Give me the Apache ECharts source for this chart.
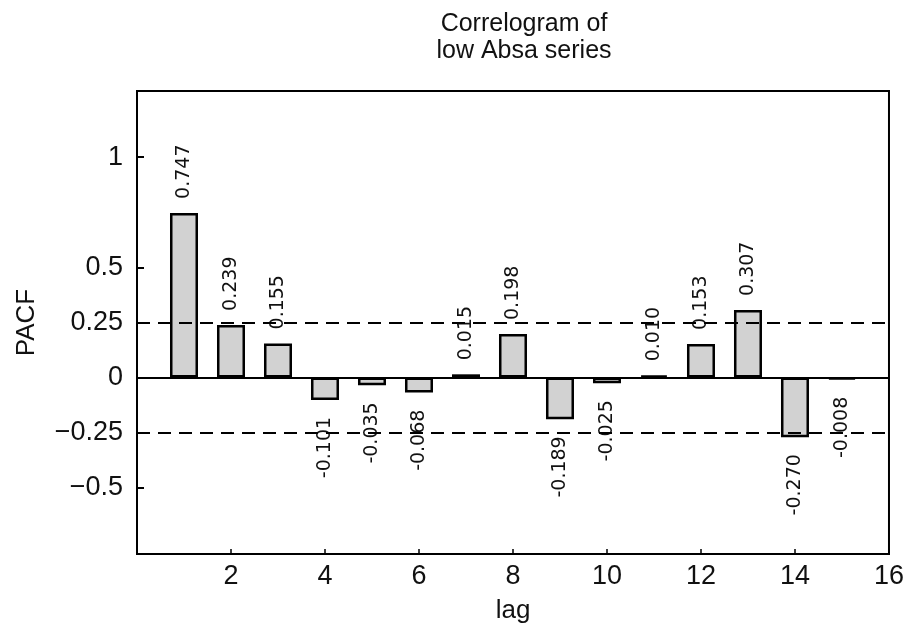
<!DOCTYPE html>
<html>
<head>
<meta charset="utf-8">
<script src="https://cdn.jsdelivr.net/npm/echarts@6/dist/echarts.min.js"></script>
<style>html,body{margin:0;padding:0;background:#fff;}#c{width:907px;height:629px;}</style>
</head>
<body>
<div id="c"></div>
<script>
const lags = [1,2,3,4,5,6,7,8,9,10,11,12,13,14,15];
const pacf = [0.747,0.239,0.155,-0.101,-0.035,-0.068,0.015,0.198,-0.189,-0.025,0.010,0.153,0.307,-0.270,-0.008];
const yTicks = [-0.5,-0.25,0,0.25,0.5,1];
const xTicks = [2,4,6,8,10,12,14,16];
const bounds = [0.25,-0.25];

const font = 'Liberation Sans, Arial, sans-serif';
const chart = echarts.init(document.getElementById('c'), null, {renderer:'canvas'});
const data = lags.map((l,i)=>{
  const v = pacf[i];
  const pos = v >= 0;
  return {
    value:[l,v],
    label:{
      show:true,
      formatter: v.toFixed(3),
      position: pos ? 'top' : 'bottom',
      rotate: 90,
      align: pos ? 'left' : 'right',
      verticalAlign: 'middle',
      distance: pos ? 14 : 17
    }
  };
});
chart.setOption({
  backgroundColor:'#fff',
  animation:false,
  title:{
    text:'Correlogram of\nlow Absa series',
    left:519, top:6, textAlign:'center',
    textStyle:{fontFamily:font,fontSize:25,fontWeight:'normal',color:'#111',lineHeight:27}
  },
  grid:{left:137,right:17,top:91,bottom:75,show:true,borderColor:'#000',borderWidth:2,backgroundColor:'transparent'},
  xAxis:{
    type:'value',min:0,max:16,interval:2,
    name:'lag',nameLocation:'middle',nameGap:44,
    nameTextStyle:{fontFamily:font,fontSize:26,color:'#111'},
    axisLine:{show:true,onZero:false,lineStyle:{color:'#000',width:2}},
    axisTick:{show:true,inside:true,length:5,customValues:xTicks,lineStyle:{color:'#000',width:1.5}},
    axisLabel:{fontFamily:font,fontSize:27,color:'#111',margin:9,customValues:xTicks},
    splitLine:{show:false}
  },
  yAxis:{
    type:'value',min:-0.8,max:1.3,
    name:'PACF',nameLocation:'middle',nameGap:97,nameRotate:90,
    nameTextStyle:{fontFamily:font,fontSize:26,color:'#111'},
    axisLine:{show:true,onZero:false,lineStyle:{color:'#000',width:2}},
    axisTick:{show:true,inside:true,length:7,customValues:yTicks,lineStyle:{color:'#000',width:2}},
    axisLabel:{fontFamily:font,fontSize:27,color:'#111',margin:14,customValues:yTicks,
      formatter:v=>String(v).replace('-','\u2212')},
    splitLine:{show:false}
  },
  series:[{
    type:'bar',
    data:data,
    barWidth:28,
    itemStyle:{color:'#d2d2d2',borderColor:'#000',borderWidth:2.5},
    label:{fontFamily:'DejaVu Sans, sans-serif',fontSize:19,color:'#111'},
    markLine:{
      silent:true,symbol:'none',label:{show:false},
      data:[
        {yAxis:0,lineStyle:{type:'solid',color:'#000',width:2}},
        ...bounds.map(b=>({yAxis:b,lineStyle:{type:[13,8],color:'#000',width:2}}))
      ]
    },
    z:3
  }]
});
</script>
</body>
</html>
